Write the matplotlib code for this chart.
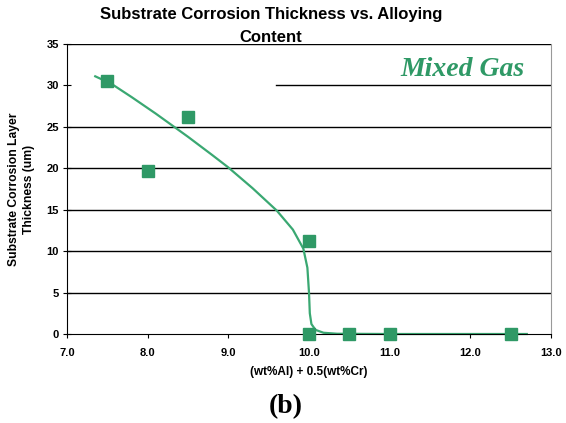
import matplotlib
matplotlib.use("Agg")
import matplotlib.pyplot as plt

# data
pts_x = [7.5, 8.0, 8.5, 10.0, 10.0, 10.5, 11.0, 12.5]
pts_y = [30.5, 19.7, 26.2, 11.2, 0.0, 0.0, 0.0, 0.0]
curve_x = [7.35, 7.55, 7.8, 8.1, 8.5, 8.8, 9.0, 9.3, 9.6, 9.8, 9.93, 9.98, 10.0,
           10.01, 10.03, 10.08, 10.18, 10.35, 11.0, 12.7]
curve_y = [31.1, 30.2, 28.6, 26.6, 23.8, 21.6, 20.1, 17.6, 14.9, 12.6, 10.3, 8.0, 5.0,
           2.5, 1.2, 0.5, 0.15, 0.03, 0.0, 0.0]
x_ticks = [7.0, 8.0, 9.0, 10.0, 11.0, 12.0, 13.0]
y_ticks = [0, 5, 10, 15, 20, 25, 30, 35]

green = '#2f9966'
plt.rcParams['font.family'] = ['Liberation Sans', 'DejaVu Sans']

fig = plt.figure(figsize=(5.66, 4.23), dpi=100)
L, R, T, B = 67, 551, 44, 334
ax = fig.add_axes([L/566, 1-B/423, (R-L)/566, (B-T)/423])
ax.set_xlim(7.0, 13.0)
ax.set_ylim(0, 35)

for yv in y_ticks[1:]:
    if yv == 30:
        ax.axhline(yv, xmin=(276-L)/(R-L), color='black', lw=1, zorder=1)
    else:
        ax.axhline(yv, color='black', lw=1, zorder=1)

ax.plot(curve_x, curve_y, color='#3aa872', lw=1.6, zorder=2, clip_on=False)
ax.plot(pts_x, pts_y, 's', color=green, markersize=8, zorder=3, clip_on=False, lw=0)

ax.set_xticks(x_ticks)
ax.set_xticklabels([f'{v:.1f}' for v in x_ticks], fontsize=8, fontweight='bold')
ax.set_yticks(y_ticks)
ax.set_yticklabels([str(v) for v in y_ticks], fontsize=8, fontweight='bold')
ax.tick_params(axis='y', direction='inout', length=6, width=0.8, pad=3)
ax.tick_params(axis='x', direction='out', length=3, width=0.8, pad=7)

ax.spines['top'].set_visible(False)
ax.spines['right'].set_color('#999999')
ax.spines['left'].set_color('black')
ax.spines['bottom'].set_color('black')

ax.set_xlabel('(wt%Al) + 0.5(wt%Cr)', fontsize=8.5, fontweight='bold', labelpad=6)
ax.set_ylabel('Substrate Corrosion Layer\nThickness (um)', fontsize=8.7, fontweight='bold',
              labelpad=8, linespacing=1.3)

fig.text(271/566, 1-7/423, 'Substrate Corrosion Thickness vs. Alloying\nContent',
         ha='center', va='top', fontsize=12, fontweight='bold', linespacing=1.65)
fig.text(462/566, 1-70/423, 'Mixed Gas', ha='center', va='center', fontsize=20,
         style='italic', fontweight='bold', color=green,
         family=['Liberation Serif', 'DejaVu Serif'])
fig.text(286/566, 1-407/423, '(b)', ha='center', va='center', fontsize=20,
         fontweight='bold', family=['Liberation Serif', 'DejaVu Serif'])

fig.savefig('out.png', dpi=100)
